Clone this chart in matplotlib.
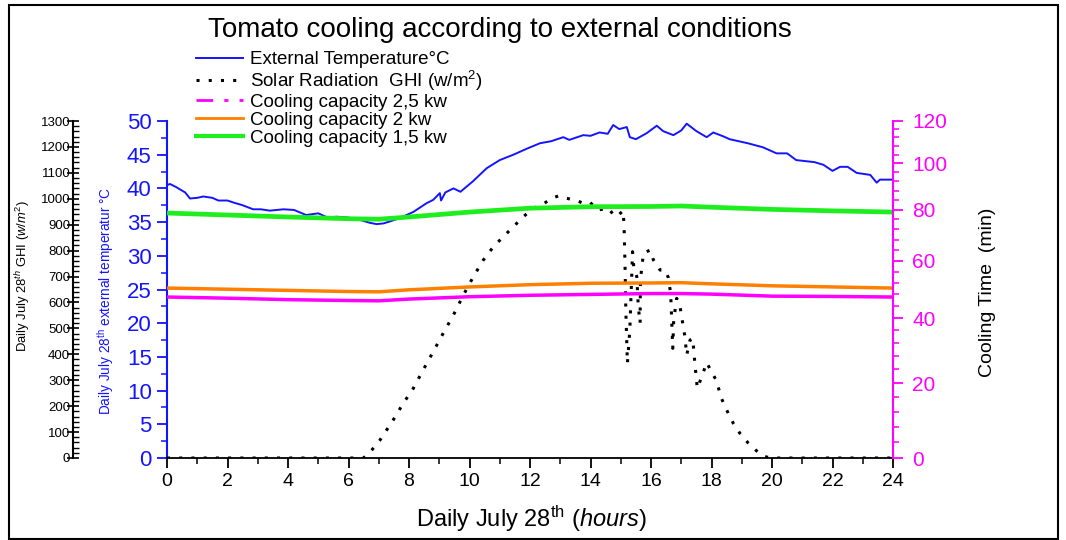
import numpy as np
import matplotlib
matplotlib.use("Agg")
import matplotlib.pyplot as plt
from matplotlib.lines import Line2D
from matplotlib.patches import Rectangle
from matplotlib.ticker import MultipleLocator, FixedLocator

plt.rcParams['font.family'] = ['Liberation Sans', 'DejaVu Sans']
plt.rcParams['mathtext.fontset'] = 'custom'
plt.rcParams['mathtext.rm'] = 'Liberation Sans'
plt.rcParams['mathtext.it'] = 'Liberation Sans:italic'
plt.rcParams['mathtext.bf'] = 'Liberation Sans:bold'

# ---------------- data ----------------
temp_hours = [0, 0.1, 0.3, 0.6, 0.76, 1.0, 1.2, 1.5, 1.7, 2.0, 2.2, 2.5, 2.85, 3.1, 3.4,
              3.85, 4.2, 4.6, 5.0, 5.3, 5.6, 5.95, 6.4, 6.7, 6.93, 7.15, 7.37, 7.7, 8.14,
              8.58, 8.8, 9.02, 9.06, 9.2, 9.47, 9.7, 10.1, 10.57, 11.0, 11.45, 11.9, 12.33,
              12.7, 13.1, 13.3, 13.76, 14.0, 14.3, 14.57, 14.75, 14.95, 15.2, 15.3, 15.5,
              15.86, 16.19, 16.4, 16.74, 17.0, 17.18, 17.5, 17.84, 18.06, 18.4, 18.6, 19.2,
              19.7, 20.15, 20.5, 20.8, 21.4, 21.7, 22.0, 22.25, 22.5, 22.8, 23.25, 23.46,
              23.57, 24.0]
temp_values = [40.5, 40.65, 40.2, 39.4, 38.5, 38.6, 38.8, 38.6, 38.2, 38.2, 37.9, 37.5, 36.9,
               36.9, 36.7, 36.9, 36.8, 36.05, 36.3, 35.7, 35.8, 35.7, 35.3, 34.9, 34.7, 34.8,
               35.1, 35.6, 36.5, 37.8, 38.3, 39.3, 38.2, 39.4, 40.0, 39.5, 41.0, 43.0, 44.2,
               45.0, 45.9, 46.7, 47.0, 47.6, 47.2, 47.9, 47.8, 48.3, 48.1, 49.4, 48.8, 49.1,
               47.6, 47.3, 48.2, 49.3, 48.5, 47.9, 48.6, 49.6, 48.5, 47.6, 48.3, 47.7, 47.3,
               46.7, 46.1, 45.2, 45.2, 44.2, 43.9, 43.5, 42.6, 43.2, 43.2, 42.3, 42.0, 40.85,
               41.3, 41.3]

ghi_hours = [0, 2, 4, 6, 6.49, 6.66, 7.04, 7.48, 7.81, 8.14, 8.47, 8.8, 9.13, 9.47, 9.8,
             10.13, 10.46, 10.79, 11.12, 11.45, 11.78, 12.11, 12.44, 12.72, 12.94, 13.21,
             13.54, 13.82, 13.99, 14.26, 14.59, 14.75, 14.86, 15.08, 15.11, 15.14, 15.17,
             15.22, 15.3, 15.39, 15.43, 15.53, 15.58, 15.64, 15.65, 15.75, 15.97, 16.08,
             16.3, 16.46, 16.57, 16.65, 16.72, 16.75, 16.85, 16.96, 17.12, 17.18, 17.29,
             17.38, 17.45, 17.53, 17.68, 17.84, 18.0, 18.15, 18.34, 18.5, 18.72, 18.94,
             19.22, 19.55, 19.77, 20.0, 22, 24]
ghi_values = [0, 0, 0, 0, 0, 15, 69, 147, 211, 268, 340, 410, 481, 552, 629, 700, 764, 815,
              854, 892, 931, 963, 980, 1002, 1011, 1002, 993, 980, 985, 957, 963, 940, 931,
              954, 892, 751, 558, 365, 494, 796, 738, 700, 584, 520, 687, 790, 802, 764, 725,
              725, 697, 635, 423, 532, 616, 584, 468, 397, 455, 462, 365, 269, 314, 368, 333,
              301, 227, 185, 134, 95, 57, 21, 5, 0, 0, 0]

cool_hours = [0, 2, 4, 6, 7, 8, 10, 12, 14, 16, 17, 18, 20, 22, 24]
cool_15kw = [78.6, 77.8, 77.0, 76.3, 76.1, 77.0, 79.0, 80.6, 81.2, 81.3, 81.5, 81.0, 80.1, 79.5, 79.0]
cool_2kw = [50.2, 49.8, 49.4, 49.0, 48.9, 49.6, 50.6, 51.4, 51.9, 52.0, 52.1, 51.7, 51.0, 50.6, 50.2]
cool_25kw = [47.1, 46.7, 46.2, 45.9, 45.8, 46.4, 47.2, 47.7, 48.0, 48.3, 48.3, 48.1, 47.4, 47.3, 47.1]

x_ticks = [0, 2, 4, 6, 8, 10, 12, 14, 16, 18, 20, 22, 24]
temp_ticks = [0, 5, 10, 15, 20, 25, 30, 35, 40, 45, 50]
ghi_ticks = [0, 100, 200, 300, 400, 500, 600, 700, 800, 900, 1000, 1100, 1200, 1300]
cool_ticks = [0, 20, 40, 60, 80, 100, 120]

labels = ["External Temperature\u00b0C",
          "Solar Radiation  GHI (w/m$^{2}$)",
          "Cooling capacity 2,5 kw",
          "Cooling capacity 2 kw",
          "Cooling capacity 1,5 kw"]

# ---------------- colours ----------------
BLUE = '#1414ff'
MAG = '#ff00ff'
ORANGE = '#ff8000'
GREEN = '#1eee1e'

W, H = 1066, 540
fig = plt.figure(figsize=(W / 100, H / 100), dpi=100)
ax = fig.add_axes([167 / W, 1 - 458 / H, (893 - 167) / W, (458 - 121) / H])
ax3 = ax.twinx()   # GHI axis (far left)
ax2 = ax.twinx()   # cooling time axis (right)

# temperature
ax.plot(temp_hours, temp_values, color=BLUE, lw=1.4)
ax.set_xlim(0, 24)
ax.set_ylim(0, 50)
ax.set_xticks(x_ticks)
ax.xaxis.set_minor_locator(MultipleLocator(1))
ax.set_yticks(temp_ticks)
ax.yaxis.set_minor_locator(MultipleLocator(2.5))
ax.tick_params(axis='x', which='major', direction='out', length=7, width=1.3,
               labelsize=14, pad=4, colors='black')
ax.tick_params(axis='x', which='minor', direction='out', length=4, width=1.1)
ax.tick_params(axis='y', which='major', direction='out', length=7, width=1.3,
               labelsize=16, colors=BLUE, pad=4)
ax.tick_params(axis='y', which='minor', direction='out', length=4, width=1.1, colors=BLUE)
for s in ['top', 'right']:
    ax.spines[s].set_visible(False)
ax.spines['left'].set_color(BLUE)
ax.spines['left'].set_linewidth(1.5)
ax.spines['bottom'].set_linewidth(1.3)

# GHI
ax3.plot(ghi_hours, ghi_values, color='black', lw=2.2, linestyle=(0, (1, 3)))
ax3.set_ylim(0, 1300)
ax3.spines['left'].set_position(('axes', (73 - 167) / 726))
ax3.spines['left'].set_visible(True)
ax3.spines['left'].set_linewidth(1.5)
for s in ['top', 'right', 'bottom']:
    ax3.spines[s].set_visible(False)
ax3.yaxis.set_ticks_position('left')
ax3.yaxis.set_label_position('left')
ax3.set_yticks(ghi_ticks)
ax3.yaxis.set_minor_locator(MultipleLocator(20))
ax3.tick_params(axis='y', which='major', direction='inout', length=8, width=1.2,
                labelsize=9.5, pad=-2)
ax3.tick_params(axis='y', which='minor', direction='in', length=4, width=1.0)

# cooling time
fwd = lambda v: np.log(np.asarray(v, dtype=float) + 120.0)
inv = lambda v: np.exp(np.asarray(v, dtype=float)) - 120.0
ax2.set_yscale('function', functions=(fwd, inv))
ax2.plot(cool_hours, cool_25kw, color=MAG, lw=2.5)
ax2.plot(cool_hours, cool_2kw, color=ORANGE, lw=2.5)
ax2.plot(cool_hours, cool_15kw, color=GREEN, lw=3.4)
ax2.set_ylim(0, 120)
ax2.set_yticks(cool_ticks)
ax2.yaxis.set_minor_locator(FixedLocator(np.arange(0, 121, 4)))
ax2.yaxis.set_minor_formatter(plt.NullFormatter())
ax2.yaxis.set_major_formatter(plt.FuncFormatter(lambda v, p: f"{v:.0f}"))
for s in ['top', 'left', 'bottom']:
    ax2.spines[s].set_visible(False)
ax2.spines['right'].set_color(MAG)
ax2.spines['right'].set_linewidth(1.5)
ax2.tick_params(axis='y', which='major', direction='out', length=7, width=1.3,
                labelsize=15, colors=MAG, pad=7)
ax2.tick_params(axis='y', which='minor', direction='out', length=4, width=1.1, colors=MAG)

# labels
ax.set_xlabel("Daily July 28$^{\\mathrm{th}}$ ($\\mathit{hours}$)", fontsize=17,
              va='center')
ax.xaxis.set_label_coords((531 - 167) / 726, (458 - 519) / 337)
ax.set_ylabel("Daily July 28$^{\\mathrm{th}}$ external temperatur \u00b0C", fontsize=9.8,
              color=BLUE, va='center')
ax.yaxis.set_label_coords((106 - 167) / 726, (458 - 301) / 337)
ax3.set_ylabel("Daily July 28$^{\\mathit{th}}$ GHI ($\\mathit{w/m^{2}}$)", fontsize=9.4,
               va='center')
ax3.yaxis.set_label_coords((23 - 167) / 726, (458 - 276) / 337)
ax2.set_ylabel("Cooling Time  (min)", fontsize=14, va='center')
ax2.yaxis.set_label_coords((987 - 167) / 726, (458 - 292) / 337)

fig.text(500 / W, 1 - 30 / H, "Tomato cooling according to external conditions",
         ha='center', va='center', fontsize=20)

handles = [Line2D([], [], color=BLUE, lw=1.4),
           Line2D([], [], color='black', lw=2.2, linestyle=(0, (1, 3))),
           Line2D([], [], color=MAG, lw=2.0, linestyle=(0, (6, 4, 1.5, 4))),
           Line2D([], [], color=ORANGE, lw=2.0),
           Line2D([], [], color=GREEN, lw=3.0)]
ax2.legend(handles, labels, loc='upper left', bbox_to_anchor=(196 / W, 1 - 51 / H),
           bbox_transform=fig.transFigure, frameon=False, fontsize=13.5,
           handlelength=2.5, handletextpad=0.4, labelspacing=0.04, borderpad=0,
           borderaxespad=0)

# outer frame
fig.patches.append(Rectangle((9 / W, 1 / H), (1058 - 9) / W, (535 - 1) / H,
                             transform=fig.transFigure, fill=False, lw=1.5,
                             edgecolor='black'))

fig.savefig("out.png", dpi=100)
